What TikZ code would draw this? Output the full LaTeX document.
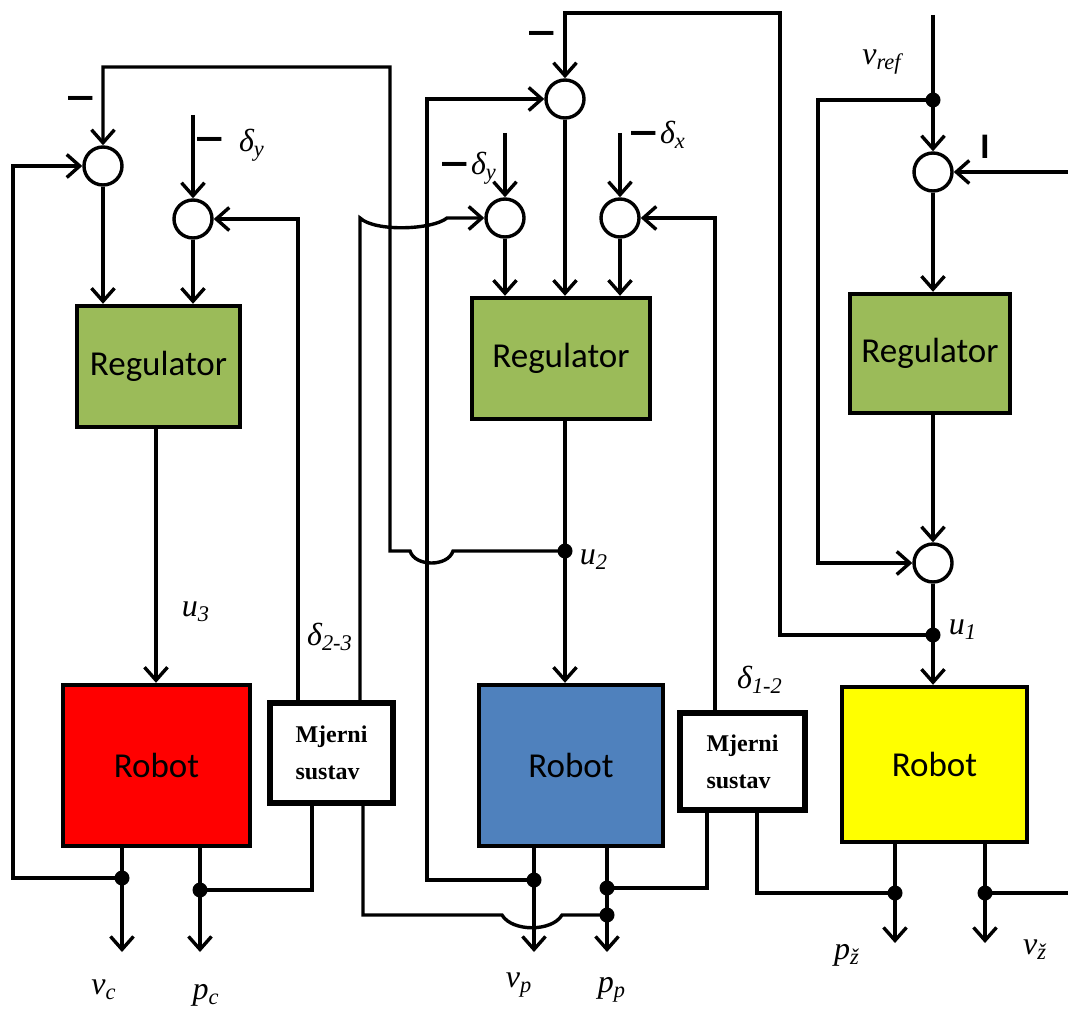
\documentclass[tikz,border=0pt]{standalone}
\usepackage{fontspec}
\setmainfont{Liberation Serif}
\newfontfamily\carl{Carlito}
\usetikzlibrary{arrows.meta}
\definecolor{regGreen}{HTML}{9BBB59}
\definecolor{robRed}{HTML}{FF0000}
\definecolor{robBlue}{HTML}{4F81BD}
\definecolor{robYellow}{HTML}{FFFF00}
\newcommand\sbs[1]{\textsubscript{#1}}
\newcommand\wdash{\scalebox{1.5}[1]{–}}
\tikzset{
  ln/.style={line width=1.7pt, line join=miter},
  arr/.style={ln, -{Straight Barb[length=6.5pt,width=11.5pt]}},
  sum/.style={circle, draw, line width=1.7pt, fill=white, minimum size=19pt, inner sep=0pt},
  regbox/.style={draw, line width=2.2pt, fill=regGreen, font=\carl\fontsize{17.5}{20}\selectfont, inner sep=0pt},
  robbox/.style={draw, line width=2.2pt, font=\carl\fontsize{17.5}{20}\selectfont, inner sep=0pt},
  mjbox/.style={draw, line width=2.7pt, fill=white, align=left, inner sep=0pt, font=\bfseries\fontsize{12}{18.5}\selectfont},
  dot/.style={circle, fill=black, inner sep=0pt, minimum size=7.5pt},
  lab/.style={inner sep=0pt, font=\itshape\fontsize{16}{18}\selectfont},
  mns/.style={inner sep=0pt, font=\carl\bfseries\fontsize{23}{23}\selectfont},
  bar/.style={inner sep=0pt, font=\carl\bfseries\fontsize{18}{18}\selectfont}
}
\begin{document}
\begin{tikzpicture}[x=0.5pt,y=-0.5pt]
\useasboundingbox (0,0) rectangle (1068,1010);
% sums
\node[sum] (S3a) at (103,166) {};
\node[sum] (S3b) at (193,219) {};
\node[sum] (S2a) at (565,99) {};
\node[sum] (S2b) at (505,218) {};
\node[sum] (S2c) at (620,218) {};
\node[sum] (S1a) at (933,172) {};
\node[sum] (S1b) at (933,563) {};
% blocks
\node[regbox, minimum width=81.5pt, minimum height=60.5pt] (R1) at (158.5,366.5) {Regulator};
\node[regbox, minimum width=89pt, minimum height=60.5pt] (R2) at (561,358.5) {Regulator};
\node[regbox, minimum width=80pt, minimum height=59.5pt] (R3) at (930,353.5) {Regulator};
\node[robbox, fill=robRed, minimum width=93.5pt, minimum height=80.5pt] (B1) at (156.5,765.5) {Robot};
\node[robbox, fill=robBlue, minimum width=92pt, minimum height=80.5pt] (B2) at (571,765.5) {Robot};
\node[robbox, fill=robYellow, minimum width=92.5pt, minimum height=77.5pt] (B3) at (934.5,764.5) {Robot};
\node[mjbox, minimum width=61.5pt, minimum height=50pt] (M1) at (331.5,753) {Mjerni\\sustav};
\node[mjbox, minimum width=62.5pt, minimum height=48.5pt] (M2) at (742.5,761.5) {Mjerni\\sustav};
% junction coordinates
\coordinate (u2) at (565,551);
\coordinate (u1) at (933,635);
\coordinate (vc) at (122,878);
\coordinate (pc) at (200,890);
\coordinate (vp) at (534,880);
\coordinate (pp1) at (607,888);
\coordinate (pp2) at (607,915);
\coordinate (pz) at (895,893);
\coordinate (vz) at (985,893);
\coordinate (vr) at (933,100);
% output ends
\coordinate (vcE) at (122,952);
\coordinate (pcE) at (200,952);
\coordinate (vpE) at (534,952);
\coordinate (ppE) at (607,952);
\coordinate (pzE) at (895,943);
\coordinate (vzE) at (985,943);
% input starts
\coordinate (in3b) at (193,115);
\coordinate (in2b) at (505,133);
\coordinate (in2c) at (620,133);
\coordinate (inref) at (933,15);
\coordinate (in1a) at (1068,172);
\coordinate (outvz) at (1068,893);
% ---- left column
\draw[arr] (u2) -- (453,551) .. controls (448,567) and (415,567) .. (410,551) -- (390,551) -- (390,67) -- (103,67) -- (S3a);
\draw[arr] (vc) -- (13,878) -- (13,166) -- (S3a);
\draw[arr] (in3b) -- (S3b);
\draw[arr] (298,0 |- M1.north) -- (298,0 |- S3b) -- (S3b);
\draw[arr] (S3a) -- (S3a |- R1.north);
\draw[arr] (S3b) -- (S3b |- R1.north);
\draw[arr] (156,0 |- R1.south) -- (156,0 |- B1.north);
\draw[arr] (vc |- B1.south) -- (vcE);
\draw[arr] (pc |- B1.south) -- (pcE);
\draw[ln] (pc) -- (312,890) -- (312,0 |- M1.south);
\draw[arr] (360,0 |- M1.north) -- (360,218) .. controls (375,232) and (432,230) .. (447,218) -- (S2b);
\draw[ln] (363,0 |- M1.south) -- (363,915) -- (502,915) .. controls (512,932) and (552,932) .. (562,915) -- (pp2);
% ---- middle column
\draw[arr] (u1) -- (780,635) -- (780,13) -- (565,13) -- (S2a);
\draw[arr] (vp) -- (427,880) -- (427,99) -- (S2a);
\draw[arr] (in2b) -- (S2b);
\draw[arr] (in2c) -- (S2c);
\draw[arr] (715,0 |- M2.north) -- (715,218) -- (S2c);
\draw[arr] (S2a) -- (S2a |- R2.north);
\draw[arr] (S2b) -- (S2b |- R2.north);
\draw[arr] (S2c) -- (S2c |- R2.north);
\draw[arr] (u2 |- R2.south) -- (u2 |- B2.north);
\draw[arr] (vp |- B2.south) -- (vpE);
\draw[arr] (pp1 |- B2.south) -- (ppE);
\draw[ln] (pp1) -- (707,888) -- (707,0 |- M2.south);
\draw[ln] (757,0 |- M2.south) -- (757,893) -- (pz);
% ---- right column
\draw[arr] (inref) -- (S1a);
\draw[arr] (vr) -- (818,100) -- (818,563) -- (S1b);
\draw[arr] (in1a) -- (S1a);
\draw[arr] (S1a) -- (S1a |- R3.north);
\draw[arr] (S1a |- R3.south) -- (S1b);
\draw[arr] (S1b) -- (S1b |- B3.north);
\draw[arr] (pz |- B3.south) -- (pzE);
\draw[arr] (vz |- B3.south) -- (vzE);
\draw[ln] (vz) -- (outvz);
% dots
\node[dot] (d1) at (u2) {};
\node[dot] (d2) at (u1) {};
\node[dot] (d3) at (vc) {};
\node[dot] (d4) at (pc) {};
\node[dot] (d5) at (vp) {};
\node[dot] (d6) at (pp1) {};
\node[dot] (d7) at (pp2) {};
\node[dot] (d8) at (pz) {};
\node[dot] (d9) at (vz) {};
\node[dot] (d10) at (vr) {};
% signs
\node[mns] (m1) at (81,104) {\wdash};
\node[mns] (m2) at (210,145) {\wdash};
\node[mns] (m3) at (542,39) {\wdash};
\node[mns] (m4) at (455,170) {\wdash};
\node[mns] (m5) at (644,139) {\wdash};
\node[bar] (m6) at (985,147) {I};
% labels
\node[lab] (ldy1) at (252,145) {δ\sbs{y}};
\node[lab] (ldy2) at (484,168) {δ\sbs{y}};
\node[lab] (ldx) at (673,135) {δ\sbs{x}};
\node[lab] (lvref) at (882,62) {v\sbs{ref}};
\node[lab] (lu3) at (196,612) {u\sbs{3}};
\node[lab] (lu2) at (594,560) {u\sbs{2}};
\node[lab] (lu1) at (963,630) {u\sbs{1}};
\node[lab] (ld23) at (330,637) {δ\sbs{2-3}};
\node[lab] (ld12) at (760,680) {δ\sbs{1-2}};
\node[lab] (lvc) at (104,990) {v\sbs{c}};
\node[lab] (lpc) at (206,995) {p\sbs{c}};
\node[lab] (lvp) at (519,985) {v\sbs{p}};
\node[lab] (lpp) at (612,990) {p\sbs{p}};
\node[lab] (lpz) at (847,955) {p\sbs{ž}};
\node[lab] (lvz) at (1035,950) {v\sbs{ž}};
\end{tikzpicture}
\end{document}
